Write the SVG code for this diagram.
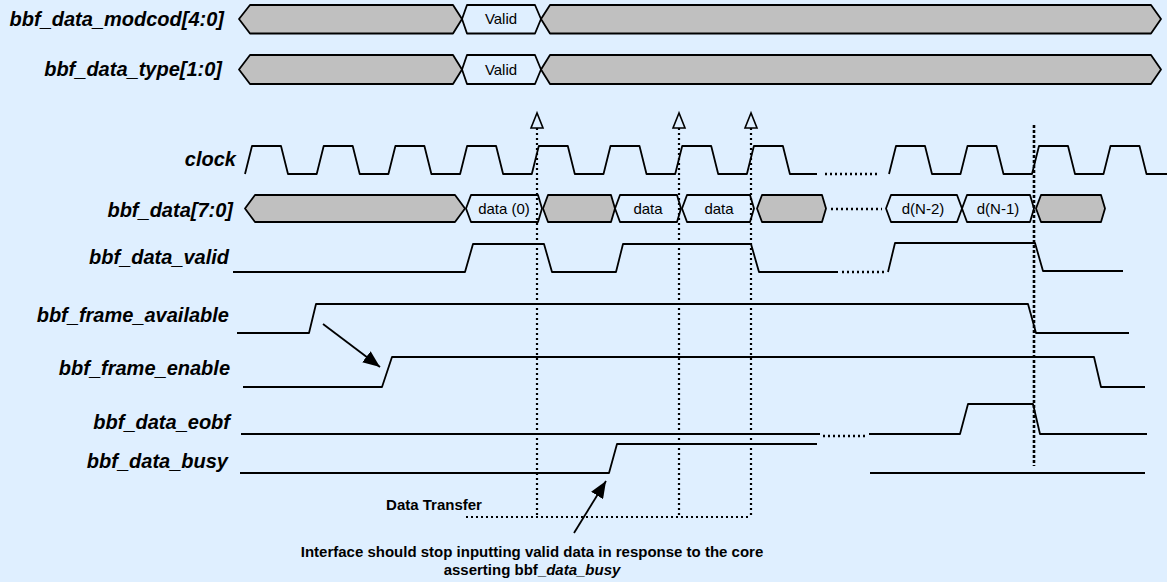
<svg xmlns="http://www.w3.org/2000/svg" width="1167" height="582" viewBox="0 0 1167 582">
<style>
.lbl{font-family:"Liberation Sans",Arial,sans-serif;font-size:20px;font-weight:bold;font-style:italic;fill:#000;text-anchor:end}
.val{font-family:"Liberation Sans",Arial,sans-serif;font-size:15px;fill:#000;text-anchor:middle}
.note{font-family:"Liberation Sans",Arial,sans-serif;font-size:15px;font-weight:bold;fill:#000;text-anchor:middle}
.bus{fill:#C0C0C0;stroke:#000;stroke-width:1.8;stroke-linejoin:round}
.busv{fill:#DFEFFF;stroke:#000;stroke-width:1.8;stroke-linejoin:round}
.wave{fill:none;stroke:#000;stroke-width:1.8;stroke-linejoin:round}
.gap{fill:none;stroke:#000;stroke-width:2.5;stroke-dasharray:2 3}
.vdot{fill:none;stroke:#000;stroke-width:2.2;stroke-dasharray:2 3}
.vdash{fill:none;stroke:#000;stroke-width:2.6;stroke-dasharray:3 2}
.tri{fill:#DFEFFF;stroke:#000;stroke-width:1.6}
.arr{fill:none;stroke:#000;stroke-width:1.8}
</style>
<defs>
<marker id="ah" markerUnits="userSpaceOnUse" markerWidth="18" markerHeight="14" refX="17" refY="7" orient="auto">
<path d="M0,0 L17,7 L0,14 Z" fill="#000"/>
</marker>
</defs>
<rect x="0" y="0" width="1167" height="582" fill="#DFEFFF"/>

<g id="sig-modcod">
<text class="lbl" x="224" y="26" font-size="20.3">bbf_data_modcod[4:0]</text>
<path class="bus" d="M239,19 L250,5 L453,5 L462,19 L453,33.5 L250,33.5 Z"/>
<path class="busv" d="M462,19 L467,5 L535,5 L541,19 L535,33.5 L467,33.5 Z"/>
<path class="bus" d="M541,19 L550,5 L1151,5 L1161,19 L1151,33.5 L550,33.5 Z"/>
<text class="val" x="501" y="24">Valid</text>
</g>

<g id="sig-type">
<text class="lbl" x="222" y="76" font-size="20.3">bbf_data_type[1:0]</text>
<path class="bus" d="M239,69.5 L250,55 L453,55 L462,69.5 L453,84 L250,84 Z"/>
<path class="busv" d="M462,69.5 L467,55 L535,55 L541,69.5 L535,84 L467,84 Z"/>
<path class="bus" d="M541,69.5 L550,55 L1151,55 L1161,69.5 L1151,84 L550,84 Z"/>
<text class="val" x="501" y="74.5">Valid</text>
</g>

<g id="sig-clock">
<text class="lbl" x="236" y="166">clock</text>
<path class="wave" d="M245,174 L252,146 L281,146 L288,174 L316.7,174 L323.7,146 L352.7,146 L359.7,174 L388.4,174 L395.4,146 L424.4,146 L431.4,174 L460.1,174 L467.1,146 L496.1,146 L503.1,174 L531.8,174 L538.8,146 L567.8,146 L574.8,174 L603.5,174 L610.5,146 L639.5,146 L646.5,174 L675.2,174 L682.2,146 L711.2,146 L718.2,174 L746.9,174 L753.9,146 L782.9,146 L789.9,174 L817,174"/>
<path class="gap" d="M825,174 L877,174"/>
<path class="wave" d="M889,174 L896,146 L925,146 L932,174 L960.5,174 L967.5,146 L996.5,146 L1003.5,174 L1032,174 L1039,146 L1068,146 L1075,174 L1103.5,174 L1110.5,146 L1139.5,146 L1146.5,174 L1167,174"/>
</g>

<g id="sig-data">
<text class="lbl" x="233" y="217">bbf_data[7:0]</text>
<path class="bus" d="M245,208.5 L255,195 L455,195 L465,208.5 L455,222 L255,222 Z"/>
<path class="busv" d="M466,208.5 L471,195 L538,195 L542,208.5 L538,222 L471,222 Z"/>
<path class="bus" d="M543,208.5 L548,195 L611,195 L615,208.5 L611,222 L548,222 Z"/>
<path class="busv" d="M615,208.5 L620,195 L677,195 L681,208.5 L677,222 L620,222 Z"/>
<path class="busv" d="M682,208.5 L687,195 L750,195 L754,208.5 L750,222 L687,222 Z"/>
<path class="bus" d="M757,208.5 L762,195 L822,195 L826,208.5 L822,222 L762,222 Z"/>
<path class="gap" d="M831,209 L882,209"/>
<path class="busv" d="M886,208.5 L891,195 L957,195 L962,208.5 L957,222 L891,222 Z"/>
<path class="busv" d="M962,208.5 L967,195 L1030,195 L1034,208.5 L1030,222 L967,222 Z"/>
<path class="bus" d="M1036,208.5 L1041,195 L1101,195 L1105,208.5 L1101,222 L1041,222 Z"/>
<text class="val" x="504" y="214">data (0)</text>
<text class="val" x="648" y="214">data</text>
<text class="val" x="719" y="214">data</text>
<text class="val" x="923" y="214">d(N-2)</text>
<text class="val" x="998" y="214">d(N-1)</text>
</g>

<g id="sig-valid">
<text class="lbl" x="229" y="264">bbf_data_valid</text>
<path class="wave" d="M233,272 L465,272 L473,244 L544,244 L552,272 L616,272 L623,244 L751,244 L759,272 L838,272"/>
<path class="gap" d="M842,272 L886,272"/>
<path class="wave" d="M888,272 L895,243 L1035,243 L1043,271 L1123,271"/>
</g>

<g id="sig-available">
<text class="lbl" x="229" y="322">bbf_frame_available</text>
<path class="wave" d="M237,333 L309,333 L316,304 L1028,304 L1036,333 L1129,333"/>
</g>

<g id="sig-enable">
<text class="lbl" x="230" y="375">bbf_frame_enable</text>
<path class="wave" d="M243,387 L382,387 L392,357 L1094,357 L1101,387 L1145,387"/>
</g>

<g id="sig-eobf">
<text class="lbl" x="230" y="429">bbf_data_eobf</text>
<path class="wave" d="M241,434 L820,434"/>
<path class="gap" d="M823,436 L867,436"/>
<path class="wave" d="M869,434 L960,434 L968,404 L1033,404 L1040,434 L1147,434"/>
</g>

<g id="sig-busy">
<text class="lbl" x="228" y="468">bbf_data_busy</text>
<path class="wave" d="M240,473 L609,473 L617,444 L817,444"/>
<path class="wave" d="M870,473 L1145,473"/>
</g>

<g id="connectors">
<path class="vdot" d="M537,128 L537,517"/>
<path class="vdot" d="M679,128 L679,517"/>
<path class="vdot" d="M751,128 L751,517"/>
<path class="vdot" d="M466,517 L751,517"/>
<path class="tri" d="M537,113 L531,128 L543,128 Z"/>
<path class="tri" d="M679,113 L673,128 L685,128 Z"/>
<path class="tri" d="M751,113 L745,128 L757,128 Z"/>
<path class="vdash" d="M1034,125 L1034,466"/>
<line class="arr" x1="323" y1="324" x2="380" y2="367" marker-end="url(#ah)"/>
<line class="arr" x1="574" y1="533" x2="606" y2="481" marker-end="url(#ah)"/>
</g>

<g id="annotations">
<text class="note" x="434" y="510">Data Transfer</text>
<text class="note" x="532" y="557">Interface should stop inputting valid data in response to the core</text>
<text class="note" x="532" y="575">asserting bbf_<tspan font-style="italic">data_busy</tspan></text>
</g>
</svg>
